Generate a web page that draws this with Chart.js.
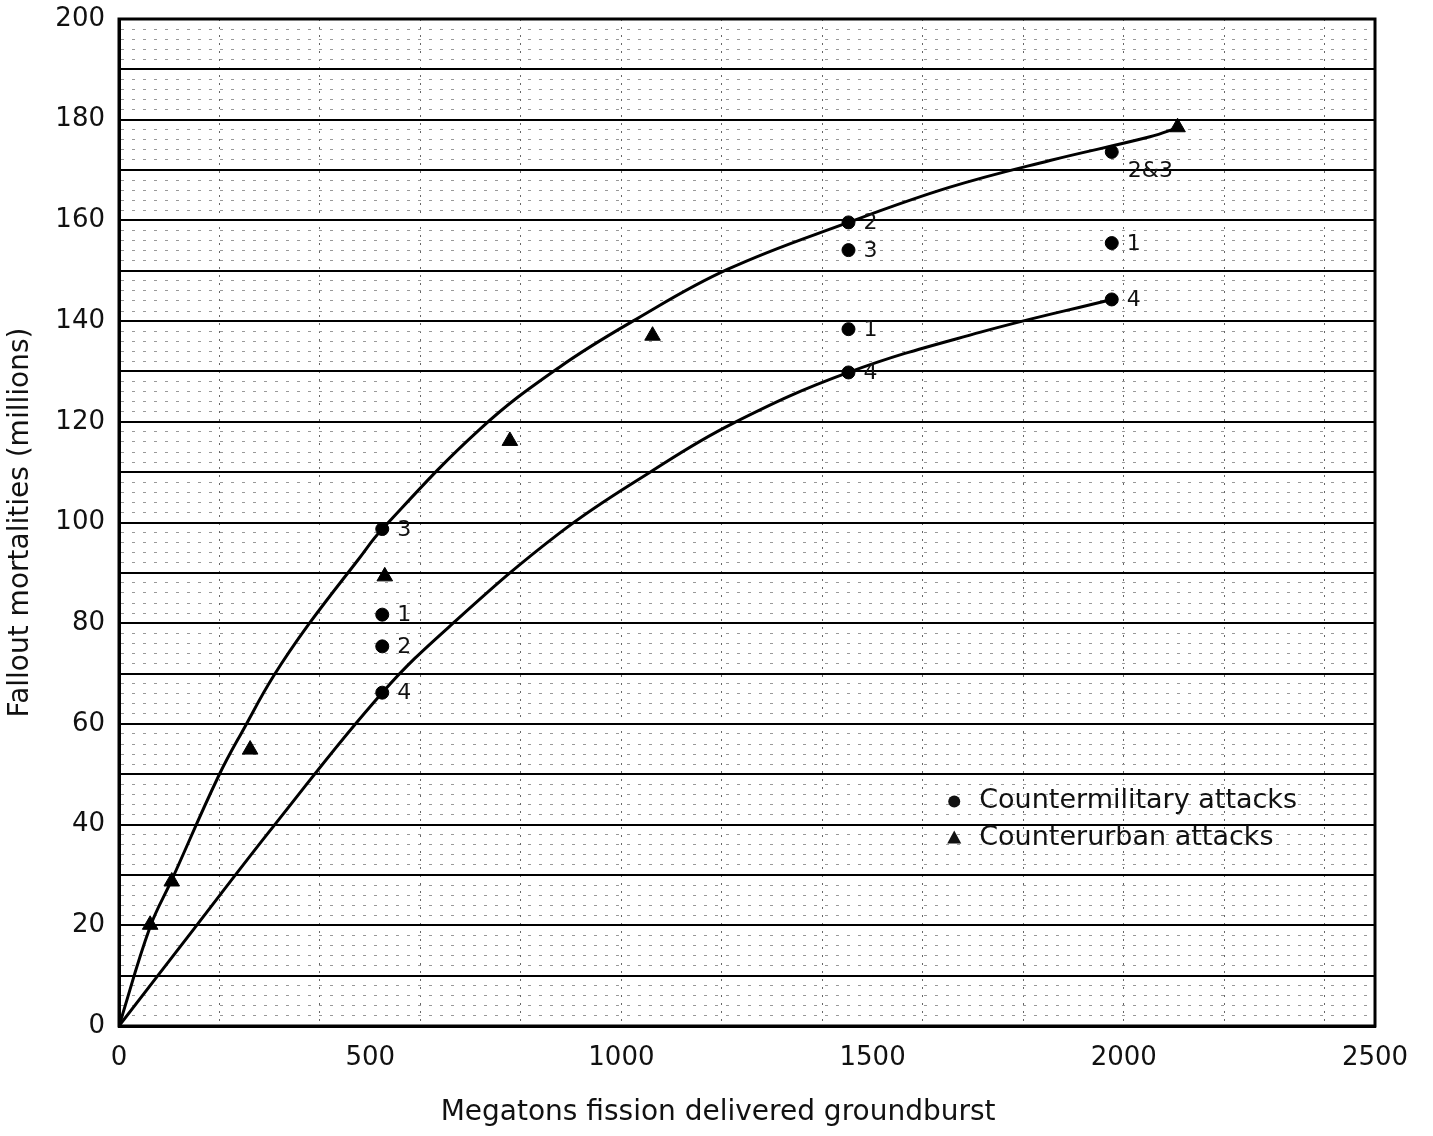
<!DOCTYPE html>
<html>
<head>
<meta charset="utf-8">
<script src="https://cdn.jsdelivr.net/npm/chart.js@4/dist/chart.umd.min.js"></script>
<style>
  html, body { margin: 0; padding: 0; background: #fff; }
  #wrap { width: 1433px; height: 1136px; position: relative; }
</style>
</head>
<body>
<div id="wrap"><canvas id="fallout"></canvas></div>
<script>
// Countermilitary attacks (dots), with the case numbers written beside them
const circleX = [524, 524, 524, 524, 1452, 1452, 1452, 1452, 1976, 1976, 1976];
const circleY = [98.7, 81.7, 75.4, 66.2, 159.6, 154.1, 138.4, 129.8, 173.6, 155.5, 144.3];
const circleLabels = ['3', '1', '2', '4', '2', '3', '1', '4', '2&3', '1', '4'];

// Counterurban attacks (triangles)
const triangleX = [62, 105, 261, 529, 778, 1062, 2107];
const triangleY = [20.1, 28.7, 54.9, 89.3, 116.2, 137.1, 178.5];

// the two hand drawn curves
const upperX = [0, 62, 105, 198, 251, 307, 377, 476, 524, 718, 876, 1030, 1212, 1452, 1654, 1853, 2052, 2111];
const upperY = [0, 19.7, 29, 49.6, 59.5, 69.4, 79.7, 92.6, 98.7, 118.5, 130.8, 140.4, 150.3, 159.6, 166.6, 171.9, 176.6, 178.5];
const lowerX = [0, 150, 307, 524, 665, 878, 1057, 1220, 1452, 1715, 1976];
const lowerY = [0, 19.4, 39.6, 66.2, 80, 98, 110, 119.6, 129.8, 137.8, 144.3];

const legendLabels = ['Countermilitary attacks', 'Counterurban attacks'];
const xTitle = 'Megatons fission delivered groundburst';
const yTitle = 'Fallout mortalities (millions)';

const FONT = '"DejaVu Sans", "Noto Sans", sans-serif';

function toPoints(xs, ys) {
  return xs.map((x, i) => ({ x: x, y: ys[i] }));
}

// numbers next to the dots
const pointLabelPlugin = {
  id: 'pointLabels',
  afterDatasetsDraw(chart) {
    const meta = chart.getDatasetMeta(2);
    const ctx = chart.ctx;
    ctx.save();
    ctx.fillStyle = '#111';
    ctx.font = '22px ' + FONT;
    ctx.textBaseline = 'middle';
    meta.data.forEach((el, i) => {
      const txt = circleLabels[i];
      if (txt.length > 1) {
        ctx.fillText(txt, el.x + 16, el.y + 19);
      } else {
        ctx.fillText(txt, el.x + 15, el.y + 1);
      }
    });
    ctx.restore();
  }
};

// frame round the plot, legend inside it, x title a bit left of centre
const framePlugin = {
  id: 'frame',
  afterDraw(chart) {
    const a = chart.chartArea;
    const ctx = chart.ctx;
    ctx.save();
    ctx.strokeStyle = '#000';
    ctx.lineWidth = 3;
    ctx.strokeRect(a.left, a.top, a.right - a.left, a.bottom - a.top);

    // legend
    const lx = a.left + (a.right - a.left) * 0.665;
    const ly = a.top + (a.bottom - a.top) * 0.777;
    ctx.fillStyle = '#111';
    ctx.font = '27px ' + FONT;
    ctx.textBaseline = 'middle';
    ctx.beginPath();
    ctx.arc(lx, ly, 6, 0, Math.PI * 2);
    ctx.fill();
    ctx.fillText(legendLabels[0], lx + 25, ly);
    const ty = ly + 37;
    ctx.beginPath();
    ctx.moveTo(lx, ty - 8);
    ctx.lineTo(lx + 7, ty + 5);
    ctx.lineTo(lx - 7, ty + 5);
    ctx.closePath();
    ctx.fill();
    ctx.fillText(legendLabels[1], lx + 25, ty);

    // x axis title
    ctx.font = '28px ' + FONT;
    ctx.textAlign = 'center';
    ctx.fillText(xTitle, a.left + (a.right - a.left) * 0.477, chart.height - 23);
    ctx.restore();
  }
};

const config = {
  type: 'scatter',
  data: {
    datasets: [
      {
        type: 'line',
        data: toPoints(upperX, upperY),
        borderColor: '#000',
        borderWidth: 3,
        pointRadius: 0,
        tension: 0.4,
        fill: false
      },
      {
        type: 'line',
        data: toPoints(lowerX, lowerY),
        borderColor: '#000',
        borderWidth: 3,
        pointRadius: 0,
        tension: 0.4,
        fill: false
      },
      {
        label: legendLabels[0],
        data: toPoints(circleX, circleY),
        pointStyle: 'circle',
        pointRadius: 6.5,
        backgroundColor: '#000',
        borderColor: '#000'
      },
      {
        label: legendLabels[1],
        data: toPoints(triangleX, triangleY),
        pointStyle: 'triangle',
        pointRadius: 9,
        backgroundColor: '#000',
        borderColor: '#000'
      }
    ]
  },
  options: {
    responsive: true,
    maintainAspectRatio: false,
    animation: false,
    layout: { padding: { top: 19, right: 58, left: 0, bottom: 0 } },
    plugins: {
      legend: { display: false },
      tooltip: { enabled: false }
    },
    scales: {
      x: {
        type: 'linear',
        min: 0,
        max: 2500,
        afterFit(scale) { scale.height = 110; },
        ticks: {
          stepSize: 100,
          autoSkip: false,
          maxRotation: 0,
          padding: 17,
          color: '#111',
          font: { family: FONT, size: 26 },
          callback: v => (v % 500 === 0 ? String(v) : '')
        },
        grid: {
          drawTicks: false,
          color: c => (c.tick && c.tick.value % 200 === 0 ? '#666' : 'rgba(0,0,0,0)'),
          lineWidth: 1
        },
        border: {
          color: '#000',
          width: 3,
          dash: c => (c.tick ? [2, 6] : [])
        },
        title: { display: false, text: xTitle }
      },
      y: {
        min: 0,
        max: 200,
        afterFit(scale) {
          scale.width = 119;
          scale.paddingTop = 0;
          scale.paddingBottom = 0;
        },
        ticks: {
          stepSize: 2,
          autoSkip: false,
          padding: 14,
          color: '#111',
          font: { family: FONT, size: 26 },
          callback: v => (v % 20 === 0 ? String(v) : '')
        },
        grid: {
          drawTicks: false,
          color: c => {
            if (!c.tick) return '#000';
            return c.tick.value % 10 === 0 ? '#000' : '#999';
          },
          lineWidth: c => (c.tick && c.tick.value % 10 === 0 ? 2 : 1)
        },
        border: {
          color: '#000',
          width: 3,
          dash: c => {
            if (!c.tick || c.tick.value % 10 === 0) return [];
            return [3, 8];
          }
        },
        title: {
          display: true,
          text: yTitle,
          color: '#111',
          font: { family: FONT, size: 28 },
          padding: { top: 4, bottom: 0 }
        }
      }
    }
  },
  plugins: [pointLabelPlugin, framePlugin]
};

new Chart(document.getElementById('fallout'), config);
</script>
</body>
</html>
